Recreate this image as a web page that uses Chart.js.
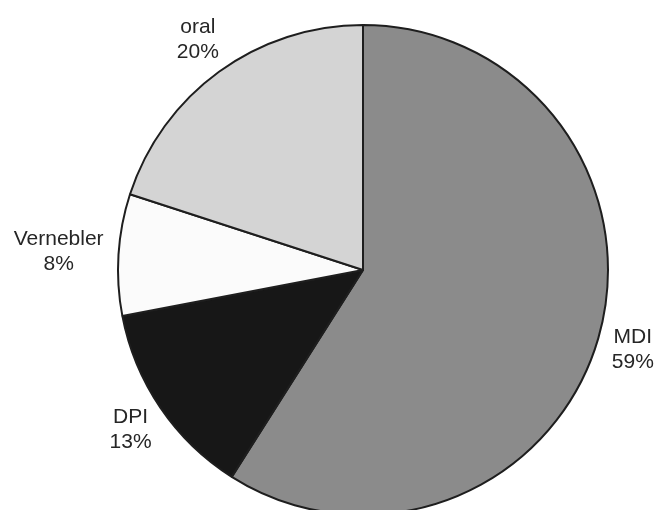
<!DOCTYPE html>
<html>
<head>
<meta charset="utf-8">
<script src="https://cdn.jsdelivr.net/npm/chart.js@4"></script>
<style>
  html, body { margin: 0; padding: 0; background: #fff; overflow: hidden; }
  #wrap { width: 666px; height: 510px; overflow: hidden; }
  canvas { display: block; }
</style>
</head>
<body>
<div id="wrap"><canvas id="c" width="666" height="530"></canvas></div>
<script>
// Share of device types (percent)
const categories = ['MDI', 'DPI', 'Vernebler', 'oral'];
const shares = [59, 13, 8, 20];
const sliceColors = ['#8b8b8b', '#171717', '#fbfbfb', '#d4d4d4'];

// Draws "name / percent" labels outside each slice
const outsideLabels = {
  id: 'outsideLabels',
  afterDatasetsDraw(chart) {
    const ctx = chart.ctx;
    const meta = chart.getDatasetMeta(0);
    ctx.save();
    ctx.font = '21px "Liberation Sans", Arial, sans-serif';
    ctx.fillStyle = '#262626';
    ctx.textAlign = 'center';
    ctx.textBaseline = 'middle';
    const lineH = 25;
    meta.data.forEach((arc, i) => {
      const p = arc.getProps(['x', 'y', 'startAngle', 'endAngle', 'outerRadius'], true);
      const mid = (p.startAngle + p.endAngle) / 2;
      const lines = [categories[i], shares[i] + '%'];
      const w = Math.max(...lines.map(t => ctx.measureText(t).width));
      const h = lineH * lines.length;
      const d = p.outerRadius + 15;
      const ax = p.x + Math.cos(mid) * d;
      const ay = p.y + Math.sin(mid) * d;
      const cx = ax + Math.cos(mid) * w / 2;
      const cy = ay + Math.sin(mid) * h / 2;
      lines.forEach((t, k) => {
        ctx.fillText(t, cx, cy + (k - (lines.length - 1) / 2) * lineH);
      });
    });
    ctx.restore();
  }
};

new Chart(document.getElementById('c'), {
  type: 'pie',
  data: {
    labels: categories,
    datasets: [{
      data: shares,
      backgroundColor: sliceColors,
      borderColor: '#1e1e1e',
      borderWidth: 2
    }]
  },
  options: {
    responsive: false,
    animation: false,
    layout: { padding: { top: 24, left: 117, right: 57, bottom: 14 } },
    plugins: {
      legend: { display: false },
      tooltip: { enabled: false }
    }
  },
  plugins: [outsideLabels]
});
</script>
</body>
</html>
